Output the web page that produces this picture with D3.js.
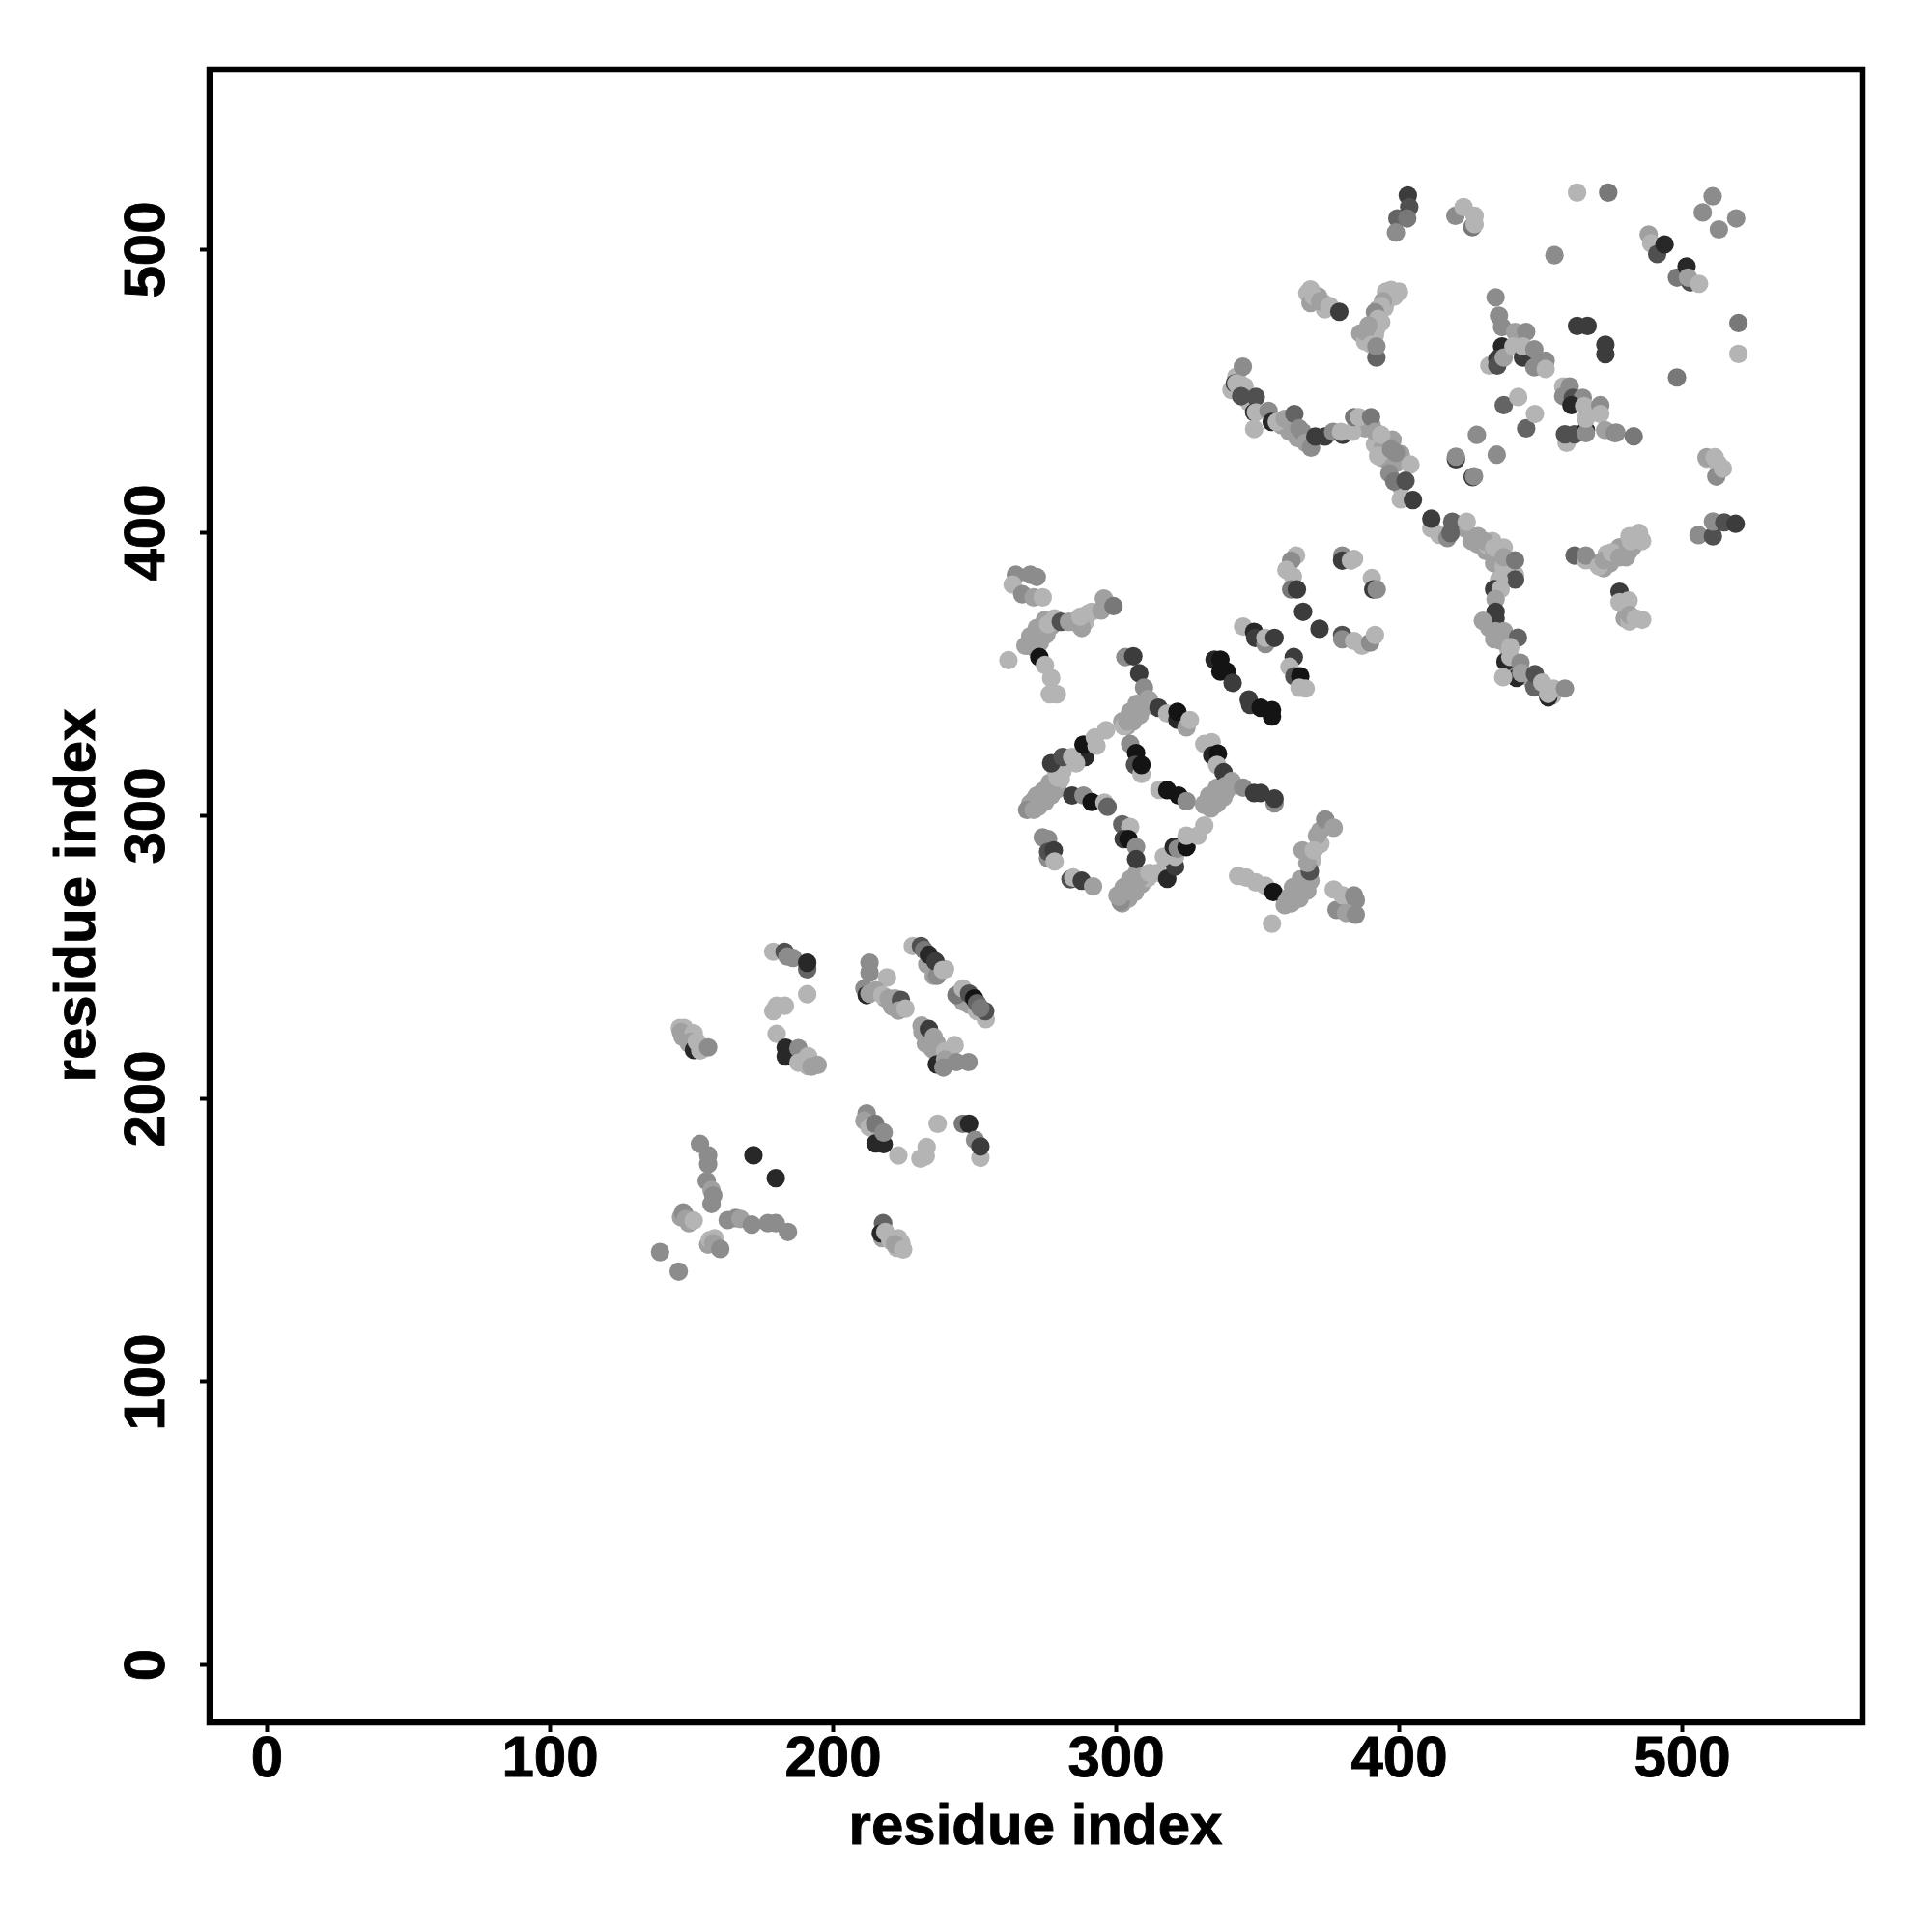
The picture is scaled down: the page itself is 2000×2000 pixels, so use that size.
<!DOCTYPE html>
<html><head><meta charset="utf-8">
<style>html,body{margin:0;background:#fff}svg{display:block}text{font-family:"Liberation Sans",Arimo,Helvetica,sans-serif;font-weight:bold;fill:#000;stroke:#000;stroke-width:0.9px}</style>
<script src="https://cdn.jsdelivr.net/npm/d3@7"></script></head><body><svg id="c" width="2000" height="2000"></svg>
<script>
const xTicks=[0,100,200,300,400,500], yTicks=[0,100,200,300,400,500];
const xLabel="residue index", yLabel="residue index";
// [residue i, residue j, shade step 0 (black) .. 9 (light)]
const contactsDense=[
[147,221.7,7],[149.2,219.4,7],[152.6,218.3,8],[233.4,247.3,7],[236.8,245.6,7],[235.7,243.3,7],[239.7,245.6,8],[246,234.2,7],[248.2,233.1,7],[251,230.8,8],
[218.6,235.3,7],[220.9,232.5,7],[223.2,233.1,7],[235.7,217.1,7],[232.9,219.4,7],[237.4,214.9,7],[239.7,216,7],[242,213.7,7],
[220.9,149.4,8],[222.6,147.2,8],[224.3,148.8,8],[217.5,150.6,7],[148,158.5,7],[146.4,158,7],[156,148.3,7],[158.3,150.6,8],
[269.8,304.2,7],[272.7,303,7],[275,304.7,7],[272.1,307,7],[274.4,308.7,7],[277.2,307,7],[279.5,309.3,7],[276.7,311.5,7],[278.9,315.5,8],[280.6,312.7,8],[271,305.3,7],
[300.6,271.7,7],[302.3,268.9,7],[304.5,270.6,7],[302.8,274.6,7],[306.8,272.9,7],[305.1,277.4,7],[309.1,275.7,7],[307.4,279.7,7],[311.4,277.9,8],[314.8,279.7,8],[317.6,284.8,8],
[331.3,304.1,7],[333.6,302.4,7],[335.8,304.1,7],[333,307,7],[338.1,306.4,7],[335.8,309.8,7],[339.2,308.7,7],[341,310.4,7],
[302.3,333.2,7],[304,331.5,7],[306.2,333.2,7],[305.1,336.6,7],[308.5,335.4,7],[307.4,339.4,7],[310.2,338.3,7],[311.9,340.6,7],
[359.7,268.3,7],[362,268.9,7],[364.9,270.6,7],[367.7,273.4,7],[368.8,276.9,7],[365.4,277.4,7],[362.6,274.6,7],[369.4,284.2,8],[372.3,289.9,8],[371.1,292.8,7],
[268.1,359.9,7],[271,359.3,7],[273.2,361,7],[269.8,363.3,7],[272.1,366.2,7],[275.5,363.9,7],[277.2,366.8,7],[275,369,7],[278.4,369.6,8],[288,369.6,8],[290.3,371.3,8],[285.2,368.4,7],[289.2,368.4,8],
[392.1,472,8],[393.8,474.2,8],[396.1,482.2,8],[398.4,483.3,8],[395.5,485,8],[395,479.4,8],[386.4,470.3,7],[389.9,469.7,7],[388.1,467.4,8],[391.6,469.7,8],[392.7,478.8,7],
[367.7,484.5,8],[368.8,481,7],[371.6,483.3,7],[373.4,481,8],[373.9,478.8,8],
[340.9,450.3,8],[343.8,452.6,8],[345.5,451.5,8],[342.6,454.9,8],[347.2,445.8,8],[358.6,437.8,7],[361.4,435.5,7],[364.2,433.3,7],[366,435.5,6],[367.7,432.1,7],
[385.9,439,8],[388.1,436.7,7],[390.4,437.8,7],[392.7,433.3,7],[391.6,431,8],[394.4,429.9,7],[393.8,426.4,8],[396.1,425.3,7],[397.8,432.7,7],[400.7,427.6,7],[399.5,424.7,7],[396.7,420.8,6],[400.7,416.2,8],
[414.3,399.1,8],[417.2,398,6],[423.4,401.4,7],[425.7,396.9,7],[428,395.7,7],[430.8,393.4,7],[433.1,396.9,8],[435.4,393.4,7],[437.1,394.6,8],[434.8,390,7],
[431.4,395.2,8],[433.7,393.5,7],[435.9,391.2,8],[433.7,389,7],[437.1,387.8,8],[432,366.2,7],[433.7,362.2,7],[437.1,362.8,7],[438.8,358.3,8],[441.6,353.1,7],[449.6,345.7,8],[451.9,344.6,8],[454.2,342.3,8],[446.8,348,7],
[470.1,389,7],[472.4,387.3,7],[474.6,389,7],[473.5,392.4,8],[476.9,393.5,8],[478,394.7,7],[480.3,391.2,7],[482.6,394.7,7],[481.5,398.6,8],[479.8,369.6,7],[481.5,368.5,8],[508.8,426,8],[512.8,424.2,8]
];
const contactsLow=[
[146,224.9,8],[147.5,224.9,8],[146.4,223.4,7],[148.7,222.2,7],[150.9,223,8],[149.8,220,7],[151,217.1,1],[152,220,8],[153.2,216.9,8],[156,218,6],
[179,251.8,8],[183,251.8,3],[184,250.1,6],[186,249.6,6],[191,245.6,4],[191,247.9,1],[191,236.8,8],[179,230.8,8],[180.2,232.7,8],[183.1,232.7,8],[180.2,222.8,8],
[183.4,217.9,1],[183.4,214.8,1],[186.8,214.9,1],[187.9,217.7,6],[187.9,212.6,8],[191.3,214.9,8],[191.3,211.4,8],[192.5,211.2,7],[194.7,211.8,7],
[213,247.9,6],[213,244.4,6],[219.2,242.7,8],[211.2,238.8,6],[212,236.5,1],[213,237,7],[215.2,238.2,7],[217.5,236.5,8],[219.8,235.3,7],[222,235.3,7],[224.1,234.8,3],[223.2,231,7],[225.7,231.7,8],
[228.3,253.8,8],[231.2,253.8,3],[232.3,252.4,5],[234,250.7,1],[236.9,243.3,6],[236.3,248.4,2],[238.9,245.4,8],
[243.7,236.5,5],[246,238.8,8],[248.2,237,3],[250,235.3,0],[251,233.6,4],[254.1,228,8],[253.9,230.8,3],[252.2,231.9,5],
[231.4,225.7,7],[231.7,223.4,7],[234,224.5,2],[235.7,221.7,7],[236.8,219.4,7],[235.1,217.7,7],[236.8,212,1],[239.7,216.6,8],[243.1,218.8,8],[239.7,213.7,7],[239.1,210.9,6],[243.7,212.8,6],[248,212.8,6],
[212,194.7,6],[211.2,192.1,7],[213,189.8,8],[215,191,5],[215.2,184.1,1],[218,183.8,1],[218,187.9,6],[223.2,179.8,8],[231,178.7,8],[232.9,179.6,8],[233.2,182.8,8],[237.1,191,8],[246,191,5],[248.2,191,1],[252.2,179,8],[250.3,185.3,6],[252.2,183,2],
[217.8,155.9,4],[217,152.3,1],[218.6,152.8,8],[220.3,150,8],[223.2,150.6,8],[222,148.5,7],[224.9,146.6,8],
[153.1,183.9,6],[156,179.9,6],[156,176.7,6],[155.5,170.8,6],[157.2,167.6,7],[157.8,165.7,6],[157.2,162.7,6],[172,179.9,1],[179.9,171.8,1],
[147.2,159.7,6],[148.1,157.4,7],[149.2,155.9,7],[150.9,156.8,8],[162.9,157,6],[165.7,157.7,6],[167.4,157.4,7],[171.4,155.4,6],[177.1,155.9,6],[179.9,155.9,6],[184.2,152.8,6],[156.6,150,8],[157.8,148.8,7],[160.3,146.8,6],[139,145.7,6],[145.6,138.8,6]
];
const contactsMid=[
[264.7,385,6],[263.6,381.5,8],[267,378.1,6],[269.8,385,6],[272.1,384.2,6],[271,377,7],[274.2,377,8],
[268.7,359.9,7],[270.4,362.2,7],[272.1,363.9,7],[273.8,365.6,7],[276.1,367.5,8],[280.6,368.4,3],[283.5,368.4,7],[288,366.2,7],[287.5,370.2,8],[291.5,371.9,8],[294.9,372.4,7],[295.8,376.6,7],[299.2,373.9,5],
[262.1,354.8,8],[273,355.9,0],[275,353.1,8],[277.2,348.5,8],[276.7,342.8,8],[279.2,342.8,8],
[268.7,301.9,6],[271,301.9,7],[273.2,305.9,7],[275.5,307,7],[277.2,309.3,7],[279.5,313.3,8],[281.2,315.5,8],
[277.2,318.4,2],[281.2,320.6,3],[289.2,320.6,1],[286,318.4,8],[284.6,320.6,8],[288.6,325,0],[292.6,327.5,8],[293.2,324.6,8],[296.6,330.1,8],
[303.4,355.9,6],[306.2,356.2,2],[308.3,350.2,2],[310,345.1,6],[302.8,331.5,8],[304,333.2,7],[305.7,335.5,7],[308,337.7,7],[311.4,341.1,7],
[315.1,338,2],[318.2,336,8],[321.8,333.7,1],[321.8,336.6,0],[325,331.1,7],[326.2,333.7,8],
[305.1,325.2,6],[307.2,322,0],[306.8,317.8,3],[309.1,314.6,8],[309.1,317.8,0],
[331.3,325.2,8],[333.9,325.8,8],[334.1,321.2,1],[336.1,321.8,0],[335.8,317.8,8],[338.1,315.2,2],
[331.3,303.6,7],[333.6,307,7],[335.8,307.6,7],[338.7,310.4,7],[341,312.1,7],[345,309.8,6],[348.9,307.9,2],[351.2,307.9,2],[356.1,304.2,6],[356.1,305.9,2],
[315.4,309,8],[318.2,308.9,0],[322.2,307,0],[325,305,6],
[284.6,307,2],[288.6,307,6],[291.5,304.7,0],[296,304.5,8],[297.1,303,4],
[302.3,296.8,4],[305.1,295.9,8],[302.8,291.6,2],[304.5,291.6,0],[307.2,288.8,6],[307.2,284.5,2],
[274.2,292.2,6],[276.1,291.6,6],[276.1,284.8,6],[276.1,287.1,3],[278.1,287.6,2],[278.4,283.7,8],
[284,277.4,3],[285,278,8],[288,276.9,2],[292,274.9,7],
[301.7,269.4,6],[301.1,271.2,7],[303.4,272.9,7],[305.7,275.1,7],[308.5,278,7],[311.9,279.7,8],[318.2,277.6,1],[321,281.9,2],[317,285.4,8],[321,285.4,8],[320.5,288.8,1],[321.9,288.2,6],[325,288.8,0],[325,292.8,8],[329,292.8,8],[331.3,296.4,8],
[343.2,278.6,8],[346.1,278,8],[349.5,276.3,8],[352.9,275.1,8],[355.7,272.9,0],[360.3,269.4,7],[361.4,271.2,7],[363.7,272.9,7],[366,275.1,7],[368.6,280.2,3],[367.7,283.1,7],[366,287.6,7],[370,287.6,8],[372.2,294.5,7],[374,298.5,6],[377,295.6,7],[355.2,261.7,8],
[377,273.8,8],[378,266.6,6],[380.2,271.7,8],[384.2,271.7,6],[384.8,270,6],[381.4,265.5,7],[384.8,264.9,6],
[334.9,355,1],[337,355,0],[337,350.8,0],[339.2,350.8,0],[341.3,346.8,2],[347,340.9,2],[347.5,339,2],[351.2,338,0],[355.2,334.9,0],[355.2,337.2,0],
[345,366.7,8],[348.9,364.8,1],[349.3,362.7,2],[352.9,360.5,6],[352.9,362.7,8],[356.1,362.7,2],
[362.9,355.9,2],[361.4,352.5,8],[363.1,349.1,3],[365.2,349.1,0],[364.9,345.1,8],[367.1,344.8,8],
[363.7,391.8,8],[362,390,6],[360.3,386.7,8],[362.6,384.4,8],[362,379.8,5],[364,379.8,2],[366.2,371.9,2],[372,365.9,2],[380,363.7,3],[380,362.2,6],[384.2,361.6,8],[387,359.9,8],[389.9,361,6],[391.6,363.7,8],
[380,391.8,6],[380,390,2],[383.1,390,8],[384.2,390.6,8],[390.5,383.8,8],[391,379.8,2],[392.2,379.8,6]
];
const contactsHigh=[
[403.2,519,2],[403.7,514.9,3],[399.5,510.9,4],[403,510.9,5],[399,505.9,6],[463,520,8],[474,520,5],[420,511.8,6],[422.9,514.9,8],[426,507.8,5],[426.8,511.8,8],[426.8,508.9,8],[455,497.9,6],
[368.8,485.8,8],[370,483.3,8],[372.2,481.6,7],[375.6,479.9,8],[379,477.9,2],
[397.3,485.6,8],[400.1,485,8],[394.4,481.6,7],[393.8,479.9,8],[391.6,477.7,6],[392.7,475.4,8],[389.3,473.1,7],[388.1,470.8,7],[390.4,466.3,8],[392.1,461.7,4],[392.1,465.7,6],
[434.2,483,6],[435.4,476.5,6],[436.5,472.5,6],[441.1,470.8,7],[445,470.8,6],[432,458.9,8],[436.5,465.7,1],[434.8,461.2,2],[434.8,458.9,3],[437.1,461.7,7],[440.5,465.7,8],[443.9,461.7,2],[443.9,465.7,8],[447.9,464.6,6],[447.9,458.3,6],[451.9,460.6,6],[451.9,457.7,8],
[463,472.9,2],[466.7,472.9,2],[473,466.3,2],[473,462.9,2],[437.1,444.9,4],[442.2,447.8,8],[445,436.7,4],[448.1,441.8,8],[427.6,434.4,6],[434.6,427.4,6],[420.2,425.8,2],[420.2,426.7,6],[426.1,419.5,2],[426.6,419.8,6],
[458.1,451.5,8],[460.4,451.5,6],[458.1,448.1,6],[461.5,447.5,3],[465,447.5,6],[461,444.9,1],[465.5,444.6,8],[471.2,444.9,6],[459.3,431.6,8],[458.7,434.6,3],[462.1,434.6,3],[466.1,436.1,1],[466.1,435,6],[466.1,440.1,8],[471.2,441.8,8],[472.9,436.1,7],[476.3,435,6],[476.9,435.2,6],[483,433.9,5],
[342.1,452.6,2],[344.9,458.5,6],[342.6,452.6,8],[343.8,450.3,8],[344.3,448.1,3],[349.5,447.8,3],[348.9,442.4,1],[349.5,442.4,8],[348.9,436.5,8],[354,442.9,6],[355.1,439,1],[356.9,439,8],[359.7,440.1,7],[363.1,441.8,4],[364.8,436.7,6],[367.1,431.6,7],[369,429.9,6],[370.5,433.8,2],[373.9,433.8,2],[376.8,435.5,6],[380.2,434.4,2],[379.6,435.5,8],[383.6,435.5,8],[384.2,440.7,5],[385.9,440.7,8],[390.2,440.7,5],[391.6,435.5,7],[393.8,434.4,8],[392.7,427,8],[397.3,429.3,6],[399,428.1,6],[404.1,423.9,8],[398.4,417.9,5],[402.4,418.2,3],[400.7,411.6,8],[405,411.4,2],
[411.5,401.4,8],[411.5,404.8,2],[418.3,399.7,4],[418.9,403.7,4],[424,403.7,8],[428,398.6,7],[430.2,396.9,7],[433.7,394.6,8],[437.1,391.2,7],[441.1,385,8],[441.1,383.3,3],[441.1,390.1,5],
[435.4,383.3,8],[433.7,379.9,2],[436,379.9,8],[434.2,376.4,7],[434.2,371.9,2],[434.2,369.6,2],[429.7,368.7,7],[434.2,365.1,7],[437.1,365.1,7],[435.9,361.7,7],[442.1,362.8,4],[439.4,359.4,8],[437.7,354.3,1],[439.4,356,8],[443,353.9,6],[441.6,348.6,1],[436.9,348.8,8],[443.3,350.3,7],[447.9,345.2,4],[448.1,349.9,3],[450.7,346.9,8],[452.8,341.7,1],[452.8,342.9,8],[454.7,344.8,8],[458.7,344.8,6],
[462.1,391.8,4],[466.1,390.1,8],[466.1,391.8,6],[470.7,388,8],[472.4,390.1,7],[475.2,392.9,8],[478,391.2,7],[481.5,393.5,7],[482,396.9,8],[484.9,399.8,8],[486,396.9,8],
[478,379,2],[478,375.3,8],[481.2,375.9,8],[481.5,370.8,7],[483.7,369.6,8],[486,369.1,8],
[505.9,399,6],[511,398.6,3],[511,403.8,6],[515,403.5,3],[519,403,2],[508.8,426.5,7],[511.6,426.5,8],[512.2,419.7,6],[514.5,422.5,8],
[488.3,505.2,7],[489.2,502.1,8],[491.3,498.3,3],[493.9,501.7,1],[498.3,490,5],[501.7,493.9,1],[503,488.3,3],[502.2,490,7],[506.1,487.8,8],
[510.9,518.7,6],[507.4,513,6],[513.1,507,6],[519.2,510.9,6],[520,473.9,5],[520,463,8],[498.3,454.7,5]
];
const contacts=[...contactsDense,...contactsLow,...contactsMid,...contactsHigh];

const svg=d3.select("#c");
const x=d3.scaleLinear().domain([0,500]).range([276,1741]);
const y=d3.scaleLinear().domain([0,500]).range([1723,258]);
const shade=d3.scaleLinear().domain([0,9]).range([20,200]);
const L=217,R=1928,T=72,B=1783;

svg.append("g").selectAll("circle").data(contacts).join("circle")
 .attr("cx",d=>x(d[0])).attr("cy",d=>y(d[1])).attr("r",9.6)
 .attr("fill",d=>{const g=Math.round(shade(d[2]));return d3.rgb(g,g,g)});

const ax=svg.append("g").attr("transform",`translate(0,${B})`).call(d3.axisBottom(x).tickValues(xTicks).tickSize(10).tickSizeOuter(0).tickPadding(8));
ax.select(".domain").remove();
ax.selectAll("line").attr("stroke","#000").attr("stroke-width",4);
ax.selectAll("text").attr("font-size",60).attr("dy",null).attr("y",56);

const ay=svg.append("g").attr("transform",`translate(${L},0)`).call(d3.axisLeft(y).tickValues(yTicks).tickSize(10).tickSizeOuter(0));
ay.select(".domain").remove();
ay.selectAll("line").attr("stroke","#000").attr("stroke-width",4);
ay.selectAll("text").attr("font-size",60).attr("dy",null).attr("x",null)
 .attr("text-anchor","middle").attr("transform","translate(-47,0) rotate(-90)").attr("y",0);

svg.append("rect").attr("x",L).attr("y",T).attr("width",R-L).attr("height",B-T).attr("fill","none").attr("stroke","#000").attr("stroke-width",6.5);
svg.append("text").attr("x",1072).attr("y",1909).attr("text-anchor","middle").attr("font-size",60).text(xLabel);
svg.append("text").attr("transform","translate(98,927) rotate(-90)").attr("text-anchor","middle").attr("font-size",60).text(yLabel);
</script></body></html>
